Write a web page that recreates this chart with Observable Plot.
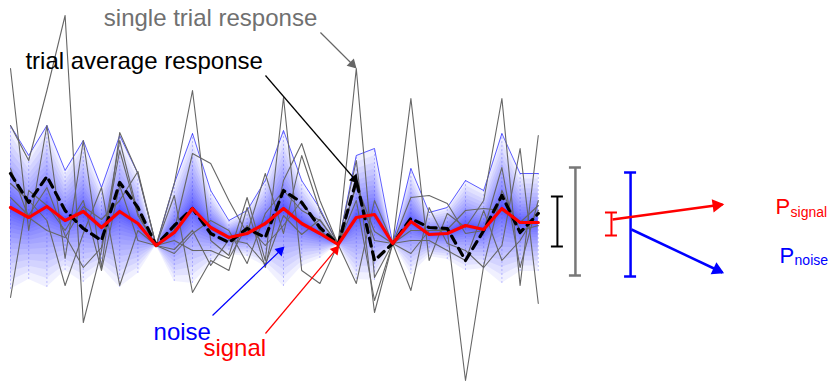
<!DOCTYPE html>
<html><head><meta charset="utf-8">
<script src="https://cdn.jsdelivr.net/npm/d3@7"></script>
<script src="https://cdn.jsdelivr.net/npm/@observablehq/plot@0.6"></script>
<style>html,body{margin:0;padding:0;background:#fff;} svg{display:block}</style>
</head><body><div id="chart"></div>
<script>
// response values per sample (arbitrary units), 30 samples
const signal       = [38,28,39,25,34,18,34,22,0,13,37,18,8,12,22,37,22,12,1,28,31,2,24,11,12,20,16,37,23,23];
const trialAverage = [72,43,69,35,17,5,63,38,0,20,37,12,3,17,8,55,43,18,1,65,-15,2,27,18,17,-15,15,50,13,32];
const noiseSpread  = [82,62,81,50,71,40,76,50,0,49,75,37,17,23,43,78,43,25,0,62,66,0,53,22,26,45,39,75,49,49];
const trial1 = [177,15,120,-13,105,-22,113,72,0,62,155,5,-10,48,-15,148,-25,-38,1,85,-67,2,147,-15,32,18,45,147,-40,110];
const trial2 = [120,85,155,230,-77,-5,95,30,0,50,-47,-15,-25,38,-22,65,102,45,1,177,-32,2,-45,38,2,-5,-22,0,97,-58];
const trial3 = [62,45,25,-40,12,58,-40,15,0,15,92,82,45,12,72,12,90,35,1,-38,45,2,48,50,42,12,15,78,-22,45];
const trial4 = [48,30,58,10,-22,-2,105,32,0,-8,12,25,15,-18,32,55,35,25,1,45,-55,2,15,15,15,-135,-20,55,15,20];
const trial5 = [-52,55,40,15,45,-25,60,5,0,5,-5,-5,-13,20,0,20,45,15,1,60,5,2,5,5,-5,-15,35,-15,5,35];
const trial6 = [77,28,15,8,39,26,45,74,0,-4,15,-20,6,2,-19,30,11,26,1,61,14,2,-8,15,16,35,37,35,23,40];
const trials = [trial1, trial2, trial3, trial4, trial5, trial6];

// annotation values (x in sample units, y in response units)
const labels = [
  {x: 10.99, y: 220, text: "single trial response", fill: "#707070", size: 24, anchor: "middle"},
  {x: 0.82,  y: 177, text: "trial average response", fill: "#000000", size: 24, anchor: "start"},
  {x: 7.86,  y: -94, text: "noise", fill: "#0000ff", size: 24, anchor: "start"},
  {x: 10.60, y: -110, text: "signal", fill: "#ff0000", size: 24, anchor: "start"},
  {x: 42.03, y: 32, text: "P", fill: "#ff0000", size: 22, anchor: "start"},
  {x: 42.86, y: 29, text: "signal", fill: "#ff0000", size: 14, anchor: "start"},
  {x: 42.25, y: -17, text: "P", fill: "#0000ff", size: 22, anchor: "start"},
  {x: 43.08, y: -19, text: "noise", fill: "#0000ff", size: 14, anchor: "start"}
];
const arrows = [
  {x1: 17.03, y1: 213, x2: 18.96, y2: 178, stroke: "#666666", w: 1.2, head: 3.8},
  {x1: 14.01, y1: 170, x2: 19.07, y2: 63,  stroke: "#000000", w: 1.2, head: 3.8},
  {x1: 11.10, y1: -70, x2: 15.00, y2: -2,  stroke: "#0000ff", w: 1.2, head: 3.8},
  {x1: 14.01, y1: -88, x2: 18.02, y2: -1,  stroke: "#ff0000", w: 1.2, head: 3.8},
  {x1: 33.08, y1: 26,  x2: 39.12, y2: 41,  stroke: "#ff0000", w: 2.5, head: 5},
  {x1: 34.12, y1: 16,  x2: 39.12, y2: -27, stroke: "#0000ff", w: 2.5, head: 5}
];
const errorBars = [
  {x: 30.05, lo: -1,  hi: 49, half: 0.33, stroke: "#000000", w: 2},
  {x: 31.04, lo: -30, hi: 78, half: 0.33, stroke: "#777777", w: 2.5},
  {x: 33.02, lo: 10,  hi: 33, half: 0.33, stroke: "#ff0000", w: 2},
  {x: 34.07, lo: -31, hi: 73, half: 0.33, stroke: "#0000ff", w: 2.5}
];

const W = 830, H = 382;
const xDomain = [-0.5495, 45.055], yDomain = [-137, 245];
const kx = W / (xDomain[1] - xDomain[0]), ky = H / (yDomain[1] - yDomain[0]);

const rows = signal.map((s, i) => ({i, s, d: noiseSpread[i]}));
const trialRows = trials.flatMap((t, k) => t.map((v, i) => ({i, v, trial: k})));
const avgRows = trialAverage.map((v, i) => ({i, v}));

const N = 20;
const bandMarks = d3.range(1, N + 1).map(k => {
  const t = Math.pow(k / N, 2.3);
  return Plot.areaY(rows, {x: "i", y1: r => r.s - r.d * t, y2: r => r.s + r.d * t, fill: "#0000ff", fillOpacity: 0.06});
});

const capRows = errorBars.flatMap(e => [{...e, y: e.lo}, {...e, y: e.hi}]);

// filled arrowheads oriented along each arrow
const heads = arrows.map(a => {
  const dx = (a.x2 - a.x1) * kx, dy = -(a.y2 - a.y1) * ky;
  const len = Math.hypot(dx, dy), ux = dx / len, uy = dy / len;
  const back = a.head * 1.2;
  return {...a, hx: a.x2 - back * ux / kx, hy: a.y2 + back * uy / ky, rot: Math.atan2(dx, -dy) * 180 / Math.PI};
});

const font = "Liberation Sans, Arial, Helvetica, sans-serif";
const chart = Plot.plot({
  width: W, height: H, margin: 0,
  style: {fontFamily: font, background: "#fff"},
  x: {domain: xDomain, axis: null},
  y: {domain: yDomain, axis: null},
  marks: [
    ...bandMarks,
    Plot.ruleX(rows, {x: "i", y1: r => r.s - r.d, y2: r => r.s + r.d, stroke: "#3333ff", strokeWidth: 0.7, strokeDasharray: "2,2", strokeOpacity: 0.4}),
    Plot.line(rows, {x: "i", y: r => r.s + r.d, stroke: "#0000ff", strokeWidth: 0.9, strokeOpacity: 0.7}),
    Plot.line(trialRows, {x: "i", y: "v", z: "trial", stroke: "#666666", strokeWidth: 1.1}),
    Plot.line(avgRows, {x: "i", y: "v", stroke: "#000000", strokeWidth: 3.2, strokeDasharray: "8,6"}),
    Plot.line(rows, {x: "i", y: "s", stroke: "#ff0000", strokeWidth: 3.2}),
    Plot.ruleX(errorBars, {x: "x", y1: "lo", y2: "hi", stroke: "stroke", strokeWidth: "w"}),
    Plot.ruleY(capRows, {y: "y", x1: e => e.x - e.half, x2: e => e.x + e.half, stroke: "stroke", strokeWidth: "w"}),
    ...arrows.map(a => Plot.link([a], {x1: "x1", y1: "y1", x2: "x2", y2: "y2", stroke: a.stroke, strokeWidth: a.w})),
    ...heads.map(h => Plot.dot([h], {x: "hx", y: "hy", r: h.head, symbol: "triangle", rotate: h.rot, fill: h.stroke, stroke: "none"})),
    ...labels.map(l => Plot.text([l], {x: "x", y: "y", text: "text", fill: l.fill, fontSize: l.size, textAnchor: l.anchor, lineAnchor: "bottom"}))
  ]
});
document.getElementById("chart").appendChild(chart);
</script>
</body></html>
